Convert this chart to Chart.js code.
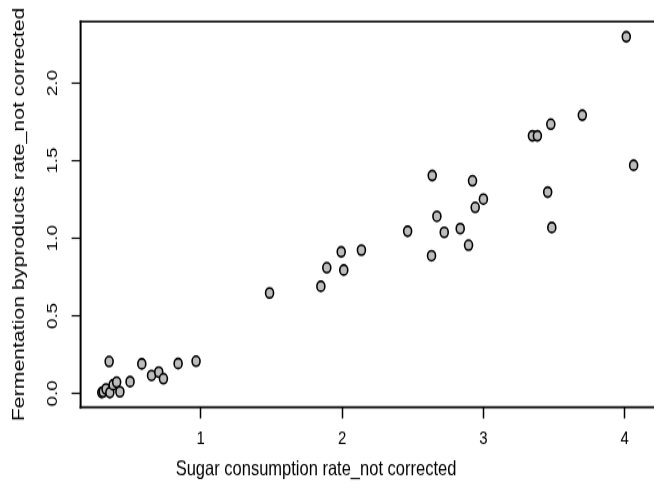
<!DOCTYPE html>
<html>
<head>
<meta charset="utf-8">
<script src="https://cdn.jsdelivr.net/npm/chart.js@4"></script>
<style>
  html, body { margin: 0; padding: 0; background: #fff; overflow: hidden; }
  #wrap { width: 654px; height: 484px; overflow: hidden; }
</style>
</head>
<body>
<!-- the reference is stretched vertically (~1.25x), so the canvas is drawn 387 tall and shown 484 tall -->
<div id="wrap"><canvas id="chart" width="660" height="387" style="width:660px;height:484px"></canvas></div>
<script>
// sugar consumption rate (x) and fermentation byproducts rate (y)
const sugarRate = [
  0.30, 0.31, 0.33, 0.357, 0.38, 0.405, 0.428, 0.50,
  0.352, 0.583, 0.652, 0.703, 0.736, 0.84, 0.967,
  1.487, 1.85, 1.892, 1.994, 2.012, 2.137,
  2.464, 2.633, 2.638, 2.671, 2.723, 2.836, 2.895, 2.923, 2.942, 3.0,
  3.347, 3.382, 3.455, 3.477, 3.484, 3.70, 4.011, 4.063
];
const byproductRate = [
  0.005, 0.010, 0.028, 0.005, 0.055, 0.072, 0.010, 0.075,
  0.205, 0.19, 0.115, 0.137, 0.094, 0.192, 0.207,
  0.647, 0.69, 0.81, 0.912, 0.795, 0.923,
  1.045, 0.887, 1.404, 1.141, 1.038, 1.062, 0.955, 1.37, 1.199, 1.252,
  1.66, 1.66, 1.297, 1.735, 1.069, 1.793, 2.299, 1.47
];
const xTicks = [1, 2, 3, 4];
const yTicks = [0, 0.5, 1, 1.5, 2];
const xTitle = 'Sugar consumption rate_not corrected';
const yTitle = 'Fermentation byproducts rate_not corrected';

const FONT = 'Liberation Sans, Arial, Helvetica, sans-serif';

// R-like box (left, top, bottom; the right side falls outside the picture) and the x label
const framePlugin = {
  id: 'frame',
  afterDraw(chart) {
    const { ctx, chartArea: a } = chart;
    ctx.save();
    ctx.strokeStyle = '#000';
    ctx.lineWidth = 1.6;
    ctx.beginPath();
    ctx.moveTo(a.left - 1, a.top); ctx.lineTo(a.right + 2, a.top);
    ctx.moveTo(a.left - 1, a.bottom); ctx.lineTo(a.right + 2, a.bottom);
    ctx.stroke();
    ctx.lineWidth = 2;
    ctx.beginPath();
    ctx.moveTo(a.left, a.top - 0.8); ctx.lineTo(a.left, a.bottom + 0.8);
    ctx.stroke();

    ctx.fillStyle = '#000';
    ctx.font = '16.5px ' + FONT;
    ctx.textAlign = 'center';
    ctx.textBaseline = 'middle';
    ctx.fillText(xTitle, 316, 375.5);
    ctx.restore();
  }
};

new Chart(document.getElementById('chart'), {
  type: 'scatter',
  data: {
    datasets: [{
      data: sugarRate.map((x, i) => ({ x: x, y: byproductRate[i] })),
      pointStyle: 'circle',
      pointRadius: 4,
      pointHoverRadius: 4,
      backgroundColor: '#bdbdbd',
      borderColor: '#000',
      borderWidth: 1.6
    }]
  },
  plugins: [framePlugin],
  options: {
    responsive: false,
    animation: false,
    clip: false,
    layout: { padding: { top: 15.2, right: 4.5, left: 0, bottom: 0 } },
    plugins: { legend: { display: false }, tooltip: { enabled: false } },
    scales: {
      x: {
        type: 'linear',
        min: 0.15,
        max: 4.21,
        afterBuildTicks: s => { s.ticks = xTicks.map(v => ({ value: v })); },
        afterFit: s => { s.height = 61.4; },
        border: { display: false },
        grid: { drawOnChartArea: false, tickLength: 9, tickColor: '#000', tickWidth: 1.5 },
        ticks: {
          color: '#000', maxRotation: 0, padding: 7.4,
          font: { family: FONT, size: 15 },
          callback: v => String(v)
        },
        title: { display: false }
      },
      y: {
        type: 'linear',
        min: -0.0897,
        max: 2.397,
        afterBuildTicks: s => { s.ticks = yTicks.map(v => ({ value: v })); },
        afterFit: s => { s.width = 80.6; },
        border: { display: false },
        grid: { drawOnChartArea: false, tickLength: 9, tickColor: '#000', tickWidth: 1.2 },
        ticks: {
          color: '#000', minRotation: 90, maxRotation: 90, crossAlign: 'center', padding: 8.2,
          font: { family: FONT, size: 15 },
          callback: v => v.toFixed(1)
        },
        title: {
          display: true, text: yTitle, color: '#000',
          font: { family: FONT, size: 17 }, padding: { top: 9, bottom: 0 }
        }
      }
    }
  }
});
</script>
</body>
</html>
